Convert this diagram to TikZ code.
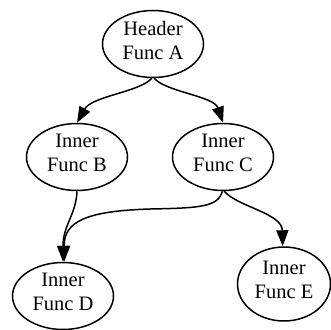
\documentclass[tikz,border=0pt]{standalone}
\usepackage{fontspec}
\setmainfont{Liberation Serif}
\usetikzlibrary{shapes.geometric,arrows.meta}
\newcommand{\lowpad}{\rule[-8pt]{0pt}{8pt}}
\begin{document}
\begin{tikzpicture}[x=1pt,y=-1pt,
  fn/.style={ellipse,draw,line width=1.5pt,inner sep=0pt,minimum width=101pt,minimum height=67pt,align=center,font=\fontsize{20.5}{24}\selectfont},
  edge/.style={line width=1.5pt,-{Triangle[length=16pt,width=12pt]}}]
\useasboundingbox (0,0) rectangle (331,329);
\node[fn] (A) at (153,44) {Header\\Func A\lowpad};
\node[fn] (B) at (77,157) {Inner\\Func B\lowpad};
\node[fn] (C) at (223,157) {Inner\\Func C\lowpad};
\node[fn] (D) at (63,296) {Inner\\Func D\lowpad};
\node[fn,minimum width=93pt,minimum height=74pt] (E) at (284,284) {Inner\\Func E\lowpad};
\draw[edge] (A.-92) .. controls (140,92) and (92,96) .. (B.90);
\draw[edge] (A.-88) .. controls (166,92) and (214,96) .. (C.90);
\draw[edge] (B.-90) .. controls (76,215) and (63,225) .. (D.90);
\draw[edge] (C.-91) .. controls (218,207) and (200,208) .. (150,209) .. controls (85,211) and (64,222) .. (D.88);
\draw[edge] (C.-88) .. controls (238,207) and (282,213) .. (E.92);
\end{tikzpicture}
\end{document}
